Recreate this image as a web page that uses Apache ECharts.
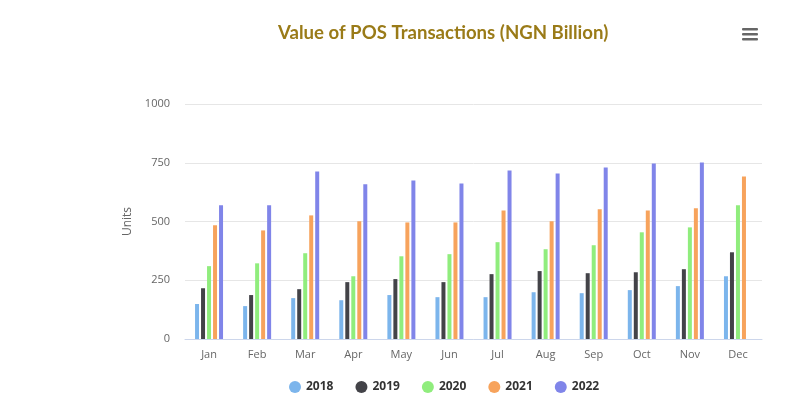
<!DOCTYPE html>
<html>
<head>
<meta charset="utf-8">
<script src="https://cdn.jsdelivr.net/npm/echarts@6/dist/echarts.min.js"></script>
<style>
  html, body { margin: 0; padding: 0; background: #fff; }
  #chart { width: 809px; height: 406px; }
</style>
</head>
<body>
<div id="chart"></div>
<script>
  var months = ['Jan', 'Feb', 'Mar', 'Apr', 'May', 'Jun', 'Jul', 'Aug', 'Sep', 'Oct', 'Nov', 'Dec'];
  var years = ['2018', '2019', '2020', '2021', '2022'];
  var colors = ['#7cb5ec', '#434348', '#90ed7d', '#f7a35c', '#8085e9'];

  var v2018 = [149, 140, 174, 165, 187, 178, 178, 199, 195, 208, 225, 267];
  var v2019 = [216, 187, 212, 242, 255, 242, 276, 289, 280, 284, 297, 369];
  var v2020 = [310, 322, 365, 267, 352, 361, 412, 382, 399, 454, 475, 569];
  var v2021 = [484, 462, 526, 501, 496, 496, 547, 501, 552, 547, 556, 692];
  var v2022 = [569, 569, 713, 658, 675, 662, 717, 704, 730, 747, 751, null];

  var yTicks = [0, 250, 500, 750, 1000];

  var chart = echarts.init(document.getElementById('chart'));

  var values = [v2018, v2019, v2020, v2021, v2022];
  var series = years.map(function (y, i) {
    return {
      name: y,
      type: 'bar',
      data: values[i],
      barWidth: 4,
      barGap: '50%',
      itemStyle: { color: colors[i] }
    };
  });

  chart.setOption({
    animation: false,
    color: colors,
    title: {
      text: 'Value of POS Transactions (NGN Billion)',
      left: 273,
      top: 18,
      textStyle: {
        color: '#9a7b18',
        fontFamily: 'Lato',
        fontWeight: 'bold',
        fontSize: 18.6
      }
    },
    legend: {
      bottom: 8,
      left: 284,
      icon: 'circle',
      itemWidth: 12,
      itemHeight: 12,
      itemGap: 22,
      textStyle: {
        color: '#333',
        fontFamily: 'Open Sans',
        fontWeight: 'bold',
        fontSize: 12
      },
      data: years
    },
    grid: {
      left: 185,
      right: 47,
      top: 104,
      bottom: 67
    },
    xAxis: {
      type: 'category',
      data: months,
      axisLine: { lineStyle: { color: '#ccd6eb' } },
      axisTick: { show: false },
      axisLabel: {
        color: '#666',
        fontFamily: 'Open Sans',
        fontSize: 11,
        margin: 10
      }
    },
    yAxis: {
      type: 'value',
      min: yTicks[0],
      max: yTicks[yTicks.length - 1],
      interval: 250,
      name: 'Units',
      nameLocation: 'middle',
      nameGap: 37,
      nameTextStyle: {
        color: '#666',
        fontFamily: 'Open Sans',
        fontSize: 12
      },
      axisLine: { show: false },
      axisTick: { show: false },
      axisLabel: {
        color: '#666',
        fontFamily: 'Open Sans',
        fontSize: 11,
        margin: 15,
        formatter: function (v) { return String(v); }
      },
      splitLine: { lineStyle: { color: '#e6e6e6' } }
    },
    graphic: [
      { type: 'rect', shape: { x: 742, y: 28, width: 16, height: 2.5, r: 1 }, style: { fill: '#666' } },
      { type: 'rect', shape: { x: 742, y: 33, width: 16, height: 2.5, r: 1 }, style: { fill: '#666' } },
      { type: 'rect', shape: { x: 742, y: 38, width: 16, height: 2.5, r: 1 }, style: { fill: '#666' } }
    ],
    series: series
  });
</script>
</body>
</html>
